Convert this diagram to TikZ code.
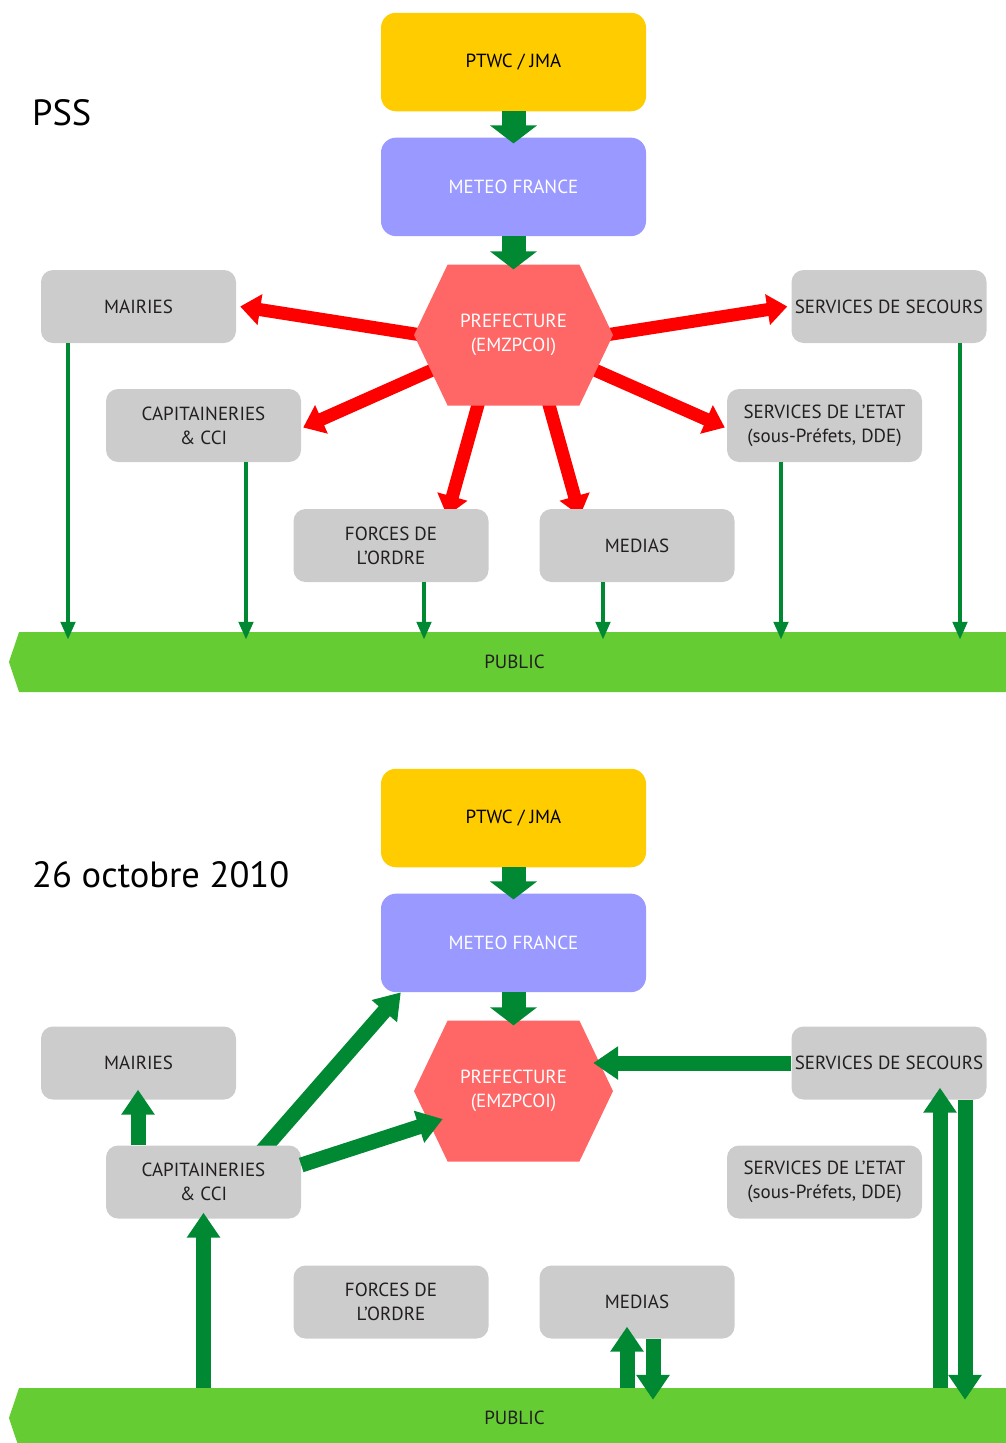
\documentclass[tikz,border=0pt]{standalone}
\usepackage{fontspec}
\setmainfont{PT Sans}
\usetikzlibrary{arrows.meta,positioning,calc,shapes.symbols,backgrounds}
\definecolor{ptwcyellow}{HTML}{FFCC00}
\definecolor{meteoblue}{HTML}{9999FF}
\definecolor{prefred}{HTML}{FF6666}
\definecolor{boxgrey}{HTML}{CCCCCC}
\definecolor{boxtext}{HTML}{231F20}
\definecolor{publicgreen}{HTML}{66CC33}
\definecolor{flowgreen}{HTML}{008833}
\definecolor{alertred}{HTML}{FF0000}
\tikzset{
  box/.style={fill=boxgrey, rounded corners=12pt, align=center, inner sep=0pt, minimum width=195pt, minimum height=73pt, text=boxtext, font=\fontsize{19}{24}\selectfont},
  topbox/.style={rounded corners=15pt, align=center, inner sep=0pt, minimum width=265pt, minimum height=98.5pt, font=\fontsize{19}{24}\selectfont},
  hexbox/.style={signal, signal to=west and east, signal pointer angle=129, fill=prefred, text=white, align=center, inner sep=0pt, minimum width=199pt, minimum height=141pt, font=\fontsize{19}{24}\selectfont},
  publicbar/.style={signal, signal to=west, signal pointer angle=143, fill=publicgreen, text=boxtext, inner sep=0pt, minimum width=1001pt, minimum height=60pt, font=\fontsize{19}{24}\selectfont},
  bigarrow/.style={-{Triangle[width=46pt,length=18pt]}, line width=24pt, draw=flowgreen},
  greenarrow/.style={-{Triangle[width=32pt,length=25pt]}, line width=15pt, draw=flowgreen},
  redarrow/.style={-{Triangle[width=30pt,length=20pt]}, line width=13pt, draw=alertred},
  thinarrow/.style={-{Triangle[width=14pt,length=18pt]}, line width=4.5pt, draw=flowgreen},
  title/.style={anchor=base west, inner sep=0pt, font=\fontsize{36.5}{42}\selectfont}
}

\begin{document}
\begin{tikzpicture}[x=1pt, y=-1pt]
\useasboundingbox (0,0) rectangle (1006,1443);

% PSS
\node[title] (pss) at (32,125) {PSS};
\node[topbox, fill=ptwcyellow] (ptwc1) at (513.5,62) {PTWC / JMA};
\node[topbox, fill=meteoblue, text=white, below=26pt of ptwc1] (meteo1) {METEO FRANCE};
\node[hexbox, below=28pt of meteo1] (pref1) {PREFECTURE\\(EMZPCOI)};
\node[box] (mairies1) at (138.5,306.5) {MAIRIES};
\node[box] (secours1) at (889,306.5) {SERVICES DE SECOURS};
\node[box] (cci1) at (203.5,425.5) {CAPITAINERIES\\\& CCI};
\node[box] (etat1) at (824.5,425.5) {SERVICES DE L’ETAT\\(sous-Préfets, DDE)};
\node[box] (forces1) at (391,545.5) {FORCES DE\\L’ORDRE};
\node[box] (medias1) at (637,545.5) {MEDIAS};
\node[publicbar] (public1) at (514.5,662) {PUBLIC};

\draw[bigarrow] (ptwc1.south) -- ($(meteo1.north)+(0,6)$);
\draw[bigarrow] (meteo1.south) -- ($(pref1.north)+(0,5)$);
\begin{scope}[on background layer]
\draw[redarrow] ($(pref1)+(-60,5)$) -- ($(mairies1.east)+(4,0)$);
\draw[redarrow] ($(pref1)+(60,5)$) -- ($(secours1.west)+(-4,0)$);
\draw[redarrow] ($(pref1)+(-70,30)$) -- ($(cci1.east)+(2,2)$);
\draw[redarrow] ($(pref1)+(70,30)$) -- ($(etat1.west)+(-2,2)$);
\draw[redarrow] ($(pref1)+(-30,50)$) -- ($(forces1.north)+(56,7)$);
\draw[redarrow] ($(pref1)+(30,50)$) -- ($(medias1.north)+(-57,7)$);
\end{scope}
\draw[thinarrow] ($(mairies1.south)+(-70.5,0)$) -- ($(mairies1.south |- public1.north)+(-70.5,8)$);
\draw[thinarrow] ($(cci1.south)+(42.5,0)$) -- ($(cci1.south |- public1.north)+(42.5,8)$);
\draw[thinarrow] ($(forces1.south)+(33,0)$) -- ($(forces1.south |- public1.north)+(33,8)$);
\draw[thinarrow] ($(medias1.south)+(-34,0)$) -- ($(medias1.south |- public1.north)+(-34,8)$);
\draw[thinarrow] ($(etat1.south)+(-43.5,0)$) -- ($(etat1.south |- public1.north)+(-43.5,8)$);
\draw[thinarrow] ($(secours1.south)+(71,0)$) -- ($(secours1.south |- public1.north)+(71,8)$);

% 26 octobre 2010
\node[title] (date) at (32,887) {26 octobre 2010};
\node[topbox, fill=ptwcyellow] (ptwc2) at (513.5,818) {PTWC / JMA};
\node[topbox, fill=meteoblue, text=white, below=26pt of ptwc2] (meteo2) {METEO FRANCE};
\node[hexbox, below=28pt of meteo2] (pref2) {PREFECTURE\\(EMZPCOI)};
\node[box] (mairies2) at (138.5,1063) {MAIRIES};
\node[box] (secours2) at (889,1063) {SERVICES DE SECOURS};
\node[box] (cci2) at (203.5,1182) {CAPITAINERIES\\\& CCI};
\node[box] (etat2) at (824.5,1182) {SERVICES DE L’ETAT\\(sous-Préfets, DDE)};
\node[box] (forces2) at (391,1302) {FORCES DE\\L’ORDRE};
\node[box] (medias2) at (637,1302) {MEDIAS};
\node[publicbar] (public2) at (514.5,1418) {PUBLIC};

\draw[bigarrow] (ptwc2.south) -- ($(meteo2.north)+(0,6)$);
\draw[bigarrow] (meteo2.south) -- ($(pref2.north)+(0,5)$);
\draw[greenarrow] ($(cci2.north)+(-65.5,0)$) -- ($(mairies2.south)+(-0.5,-10)$);
\begin{scope}[on background layer]
\draw[greenarrow, shorten <=-12pt] ($(cci2.north)+(63.5,0)$) -- ($(meteo2.south west)+(20,0)$);
\end{scope}
\draw[greenarrow] ($(cci2.east)+(0,-17)$) -- ($(pref2.west)+(29,28)$);
\draw[greenarrow] (cci2.south |- public2.north) -- ($(cci2.south)+(0,-6)$);
\coordinate (p2tip) at ($(pref2.east)+(-20,0)$);
\draw[greenarrow] (secours2.west) -- (secours2.west -| p2tip);
\draw[greenarrow] ($(secours2.south |- public2.north)+(51,0)$) -- ($(secours2.south)+(51,-12)$);
\draw[greenarrow] ($(secours2.south)+(76,0)$) -- ($(secours2.south |- public2.north)+(76,12)$);
\draw[greenarrow] ($(medias2.south |- public2.north)+(-10,0)$) -- ($(medias2.south)+(-10,-12)$);
\draw[greenarrow] ($(medias2.south)+(16,0)$) -- ($(medias2.south |- public2.north)+(16,12)$);
\end{tikzpicture}
\end{document}
